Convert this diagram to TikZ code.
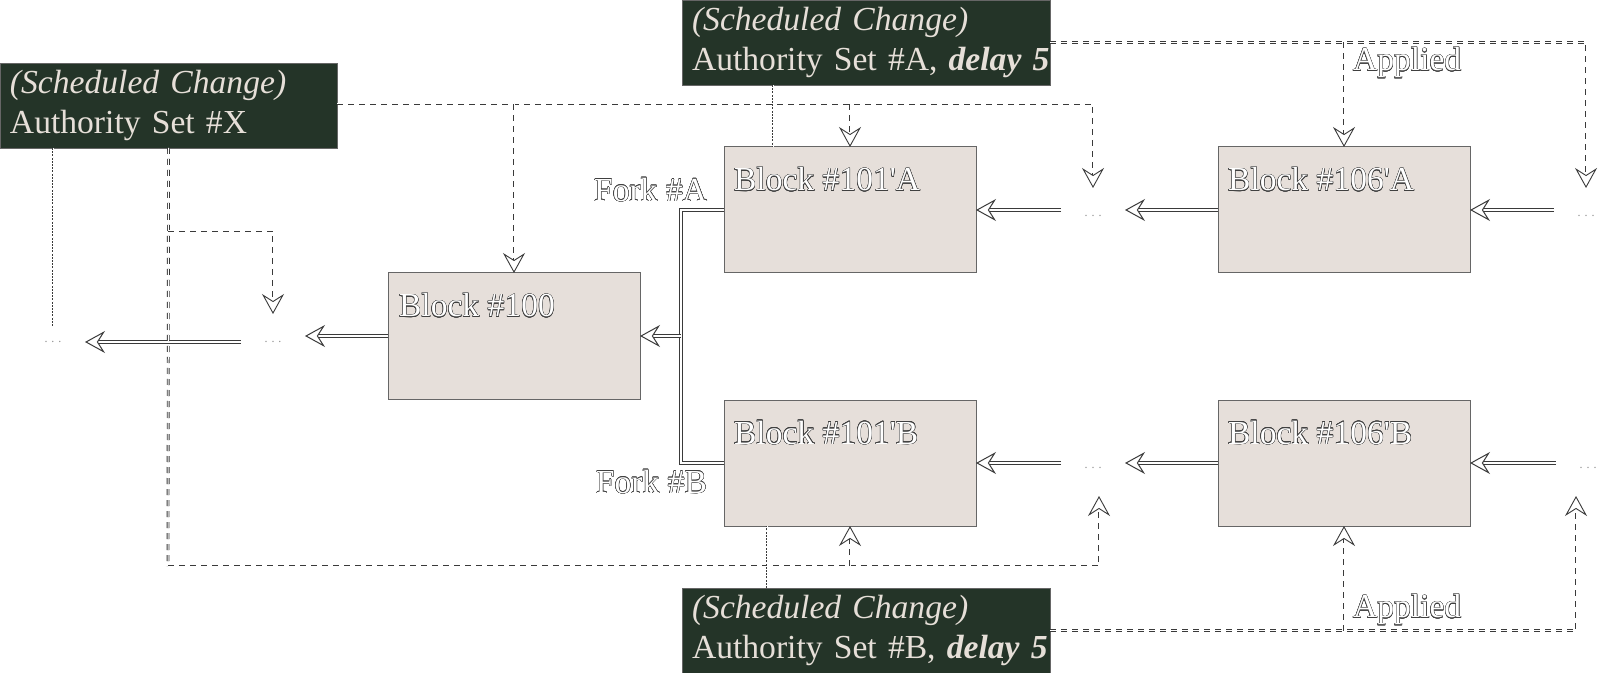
\documentclass[tikz,border=0pt]{standalone}
\usepackage{fontspec}
\setmainfont{Liberation Serif}
\usepackage{contour}
\usetikzlibrary{arrows.meta,calc}
\definecolor{darkbox}{HTML}{243428}
\definecolor{lighttext}{HTML}{E6DFD8}
\definecolor{blockfill}{HTML}{E6DFDA}
\definecolor{lineclr}{HTML}{3A3A3A}
\contourlength{0.2pt}
\newcommand{\hol}[1]{\contour{black!75}{\textcolor{white}{#1}}}
\begin{document}
\begin{tikzpicture}[x=0.5pt,y=-0.5pt,
  every node/.style={font=\fontsize{16.8}{20.25}\selectfont, outer sep=0pt},
  authbox/.style={fill=darkbox, draw=black!60, line width=0.3pt, text=lighttext, align=left,
    text width=#1, inner xsep=5pt, inner ysep=0pt, minimum height=42.5pt, anchor=north west},
  blockbox/.style={fill=blockfill, draw=black!60, line width=0.5pt, minimum width=126pt,
    minimum height=63pt, anchor=north west, inner sep=0pt},
  blocklabel/.style={anchor=base west, inner sep=0pt},
  dotsnode/.style={minimum width=32pt, minimum height=28pt, inner sep=0pt,
    font=\fontsize{6}{6}\selectfont, text=black!45},
  tip/.style={-{Stealth[open, length=10pt, width=11pt, inset=3.5pt]}},
  sol/.style={draw=lineclr, line width=0.5pt, double=white, double distance=0.55pt},
  dsh/.style={draw=lineclr, line width=0.45pt, double=white, double distance=0.5pt,
    dash pattern=on 3pt off 2.5pt},
  dot/.style={draw=lineclr, line width=0.4pt, double=white, double distance=0.4pt,
    dash pattern=on 1pt off 0.6pt},
  lbl/.style={inner sep=0pt}
]
\useasboundingbox (0,0) rectangle (1599,673);

% authority set boxes
\node[authbox=158.5pt, minimum width=168.5pt] (X) at (0,63)
  {\textit{(Scheduled Change)}\\Authority Set \#X};
\node[authbox=174pt, minimum width=184pt] (A) at (682,0)
  {\mbox{\textit{(Scheduled Change)}}\\\mbox{Authority Set \#A, \textbf{\textit{delay 5}}}};
\node[authbox=174pt, minimum width=184pt] (B) at (682,588)
  {\mbox{\textit{(Scheduled Change)}}\\\mbox{Authority Set \#B, \textbf{\textit{delay 5}}}};

% blocks
\node[blockbox] (B100) at (388,273) {};
\node[blockbox] (B101A) at (724,147) {};
\node[blockbox] (B101B) at (724,400) {};
\node[blockbox] (B106A) at (1218,147) {};
\node[blockbox] (B106B) at (1218,400) {};

\node[blocklabel] (L100) at ($(B100.north west)+(11,44)$) {\hol{Block \#100}};
\node[blocklabel] (L101A) at ($(B101A.north west)+(10,44)$) {\hol{Block \#101\textquotesingle A}};
\node[blocklabel] (L101B) at ($(B101B.north west)+(10,44)$) {\hol{Block \#101\textquotesingle B}};
\node[blocklabel] (L106A) at ($(B106A.north west)+(10,44)$) {\hol{Block \#106\textquotesingle A}};
\node[blocklabel] (L106B) at ($(B106B.north west)+(10,44)$) {\hol{Block \#106\textquotesingle B}};

% dots
\node[dotsnode] (d1) at (53,342) {. . .};
\node[dotsnode] (d2) at (273,342) {. . .};
\node[dotsnode] (dA) at (1093,216) {. . .};
\node[dotsnode] (dB) at (1093,468) {. . .};
\node[dotsnode] (dA2) at (1586,216) {. . .};
\node[dotsnode] (dB2) at (1588,468) {. . .};

% fork labels
\node[lbl, anchor=east] (FA) at (707,190) {\hol{Fork \#A}};
\node[lbl, anchor=east] (FB) at (707,482) {\hol{Fork \#B}};

% solid chain arrows
\coordinate (fk) at (681,336);
\draw[sol] (B101A.west) -| (fk);
\draw[sol] (B101B.west) -| (fk);
\draw[sol, tip] (fk) -- (B100.east);
\draw[sol, tip] (B100.west) -- (B100.west -| d2.east);
\draw[sol, tip] (d2.west) -- (d2.west -| d1.east);
\draw[sol, tip] (dA.west |- B101A.west) -- (B101A.east);
\draw[sol, tip] (B106A.west) -- (B106A.west -| dA.east);
\draw[sol, tip] (dA2.west |- B106A.west) -- (B106A.east);
\draw[sol, tip] (dB.west |- B101B.west) -- (B101B.east);
\draw[sol, tip] (B106B.west) -- (B106B.west -| dB.east);
\draw[sol, tip] (dB2.west |- B106B.west) -- (B106B.east);

% dashed from set X
\coordinate (xr) at (337,104);
\draw[dsh, tip] (xr) -| (dA.north);
\draw[dsh, tip] (xr -| B100.north) -- (B100.north);
\draw[dsh, tip] (xr -| B101A.north) -- (B101A.north);
\coordinate (low) at (168,566);
\draw[dsh] (X.south) -- (low);
\draw[dsh, tip] (low) -| ([xshift=3]dB.south);
\draw[dsh, tip] (low -| B101B.south) -- (B101B.south);
\coordinate (xm) at (168,231);
\draw[dsh, tip] (xm) -| (d2.north);

% dotted signal lines
\draw[dot] (X.south west -| d1.north) -- ([yshift=-6]d1.north);
\draw[dot] ($(A.south west)+(91,0)$) -- ($(B101A.north west)+(49,0)$);
\draw[dot] ($(B.north west)+(85,0)$) -- ($(B101B.south west)+(43,0)$);

% dashed from set A / B (applied)
\draw[dsh, tip] (A.east) -| (dA2.north);
\draw[dsh, tip] (A.east -| B106A.north) -- (B106A.north);
\node[lbl, anchor=west] (apA) at (1353,63) {\hol{Applied}};
\draw[dsh, tip] (B.east) -| ([xshift=-6]dB2.south);
\draw[dsh, tip] (B.east -| B106B.south) -- (B106B.south);
\node[lbl, anchor=west] (apB) at (1353,610) {\hol{Applied}};
\end{tikzpicture}
\end{document}
